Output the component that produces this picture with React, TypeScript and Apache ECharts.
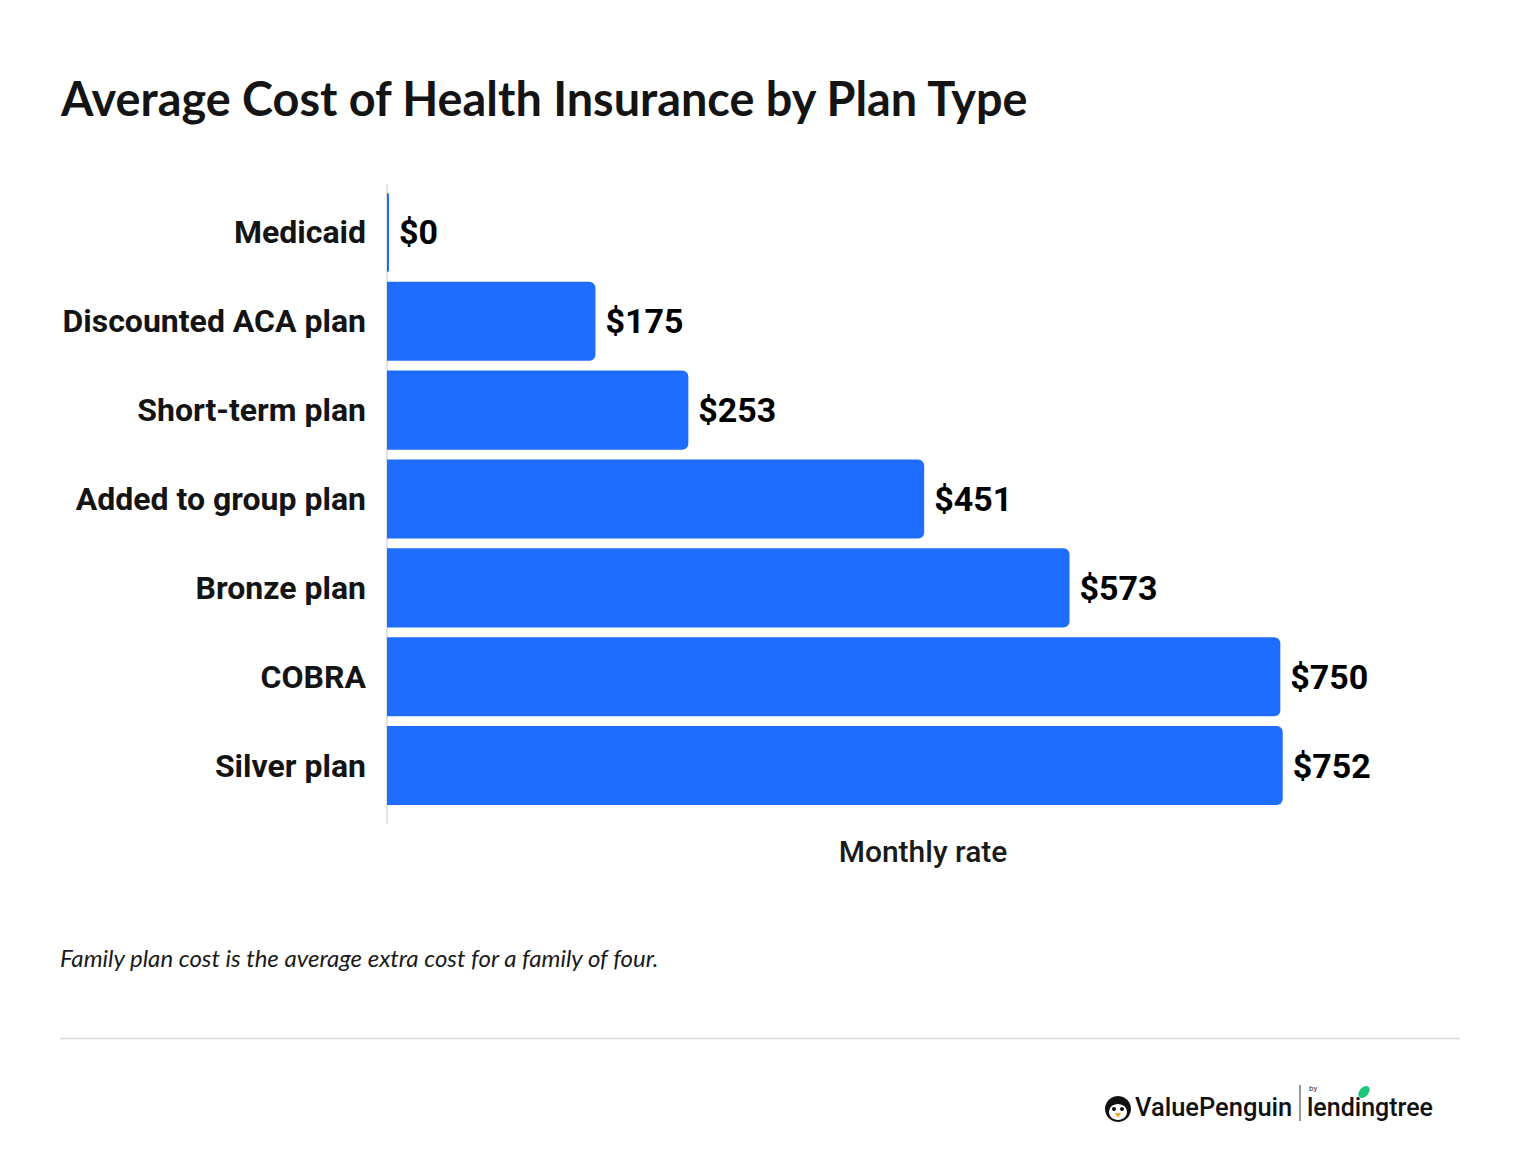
import React, { useEffect, useRef } from "react";
import * as echarts from "echarts";

const categories = [
  "Medicaid",
  "Discounted ACA plan",
  "Short-term plan",
  "Added to group plan",
  "Bronze plan",
  "COBRA",
  "Silver plan",
];
const monthlyRates = [0, 175, 253, 451, 573, 750, 752];
const titleText = "Average Cost of Health Insurance by Plan Type";
const axisName = "Monthly rate";
const footnote = "Family plan cost is the average extra cost for a family of four.";

export default function App() {
  const ref = useRef<HTMLDivElement>(null);
  useEffect(() => {
    document.body.style.margin = "0";
    const chart = echarts.init(ref.current!, null, { renderer: "svg" });
    chart.setOption({
      animation: false,
      backgroundColor: "#ffffff",
      title: {
        text: titleText,
        left: 56,
        top: 69,
        textStyle: {
          fontFamily: "Lato",
          fontWeight: "bold",
          fontSize: 46.8,
          color: "#141414",
        },
      },
      grid: { left: 387, right: 61, top: 188, bottom: 362 },
      xAxis: {
        type: "value",
        min: 0,
        max: 900,
        axisLine: { show: false },
        axisTick: { show: false },
        axisLabel: { show: false },
        splitLine: { show: false },
        name: axisName,
        nameLocation: "middle",
        nameGap: 26,
        nameTextStyle: {
          fontFamily: "Roboto",
          fontWeight: 500,
          fontSize: 30,
          color: "#1a1a1a",
        },
      },
      yAxis: {
        type: "category",
        data: categories,
        inverse: true,
        axisLine: { show: false },
        axisTick: { show: false },
        axisLabel: {
          margin: 21,
          fontFamily: "Roboto",
          fontWeight: "bold",
          fontSize: 32,
          color: "#141414",
        },
      },
      series: [
        {
          type: "bar",
          data: monthlyRates,
          barCategoryGap: "11%",
          barMinHeight: 2,
          itemStyle: { color: "#1f6dff", borderRadius: [0, 6, 6, 0] },
          label: {
            show: true,
            position: "right",
            distance: 10,
            formatter: (p: any) => "$" + p.value,
            fontFamily: "Roboto",
            fontWeight: "bold",
            fontSize: 34,
            color: "#000000",
          },
          z: 3,
        },
      ],
      graphic: [
        {
          type: "line",
          shape: { x1: 387, y1: 184, x2: 387, y2: 824 },
          style: { stroke: "#e2e2e2", lineWidth: 2 },
          z: 1,
        },
        {
          type: "text",
          left: 60,
          top: 945,
          style: {
            text: footnote,
            font: "italic 24px Lato",
            fill: "#1a1a1a",
          },
        },
        {
          type: "line",
          shape: { x1: 60, y1: 1038.5, x2: 1460, y2: 1038.5 },
          style: { stroke: "#d9d9d9", lineWidth: 1.5 },
        },
        // ValuePenguin logo
        {
          type: "circle",
          shape: { cx: 1118, cy: 1109, r: 13 },
          style: { fill: "#111111" },
        },
        {
          type: "ellipse",
          shape: { cx: 1118, cy: 1112, rx: 9, ry: 8 },
          style: { fill: "#ffffff" },
        },
        {
          type: "circle",
          shape: { cx: 1114, cy: 1109, r: 2 },
          style: { fill: "#111111" },
        },
        {
          type: "circle",
          shape: { cx: 1122, cy: 1109, r: 2 },
          style: { fill: "#111111" },
        },
        {
          type: "polygon",
          shape: { points: [[1115, 1113], [1121, 1113], [1118, 1118]] },
          style: { fill: "#f5a623" },
        },
        {
          type: "text",
          left: 1135,
          top: 1094,
          style: {
            text: "ValuePenguin",
            font: "500 25.5px Roboto",
            fill: "#111111",
          },
        },
        {
          type: "line",
          shape: { x1: 1300, y1: 1085, x2: 1300, y2: 1121 },
          style: { stroke: "#333333", lineWidth: 1 },
        },
        {
          type: "text",
          left: 1309,
          top: 1084,
          style: { text: "by", font: "8px Roboto", fill: "#333333" },
        },
        {
          type: "text",
          left: 1307,
          top: 1095,
          style: {
            text: "lendingtree",
            font: "500 25px Roboto",
            fill: "#111111",
          },
        },
        {
          type: "ellipse",
          x: 1364,
          y: 1092,
          rotation: -0.7,
          shape: { cx: 0, cy: 0, rx: 4.5, ry: 7 },
          style: { fill: "#1fc67a" },
        },
      ],
    });
    return () => chart.dispose();
  }, []);
  return <div ref={ref} style={{ width: 1520, height: 1172 }} />;
}
